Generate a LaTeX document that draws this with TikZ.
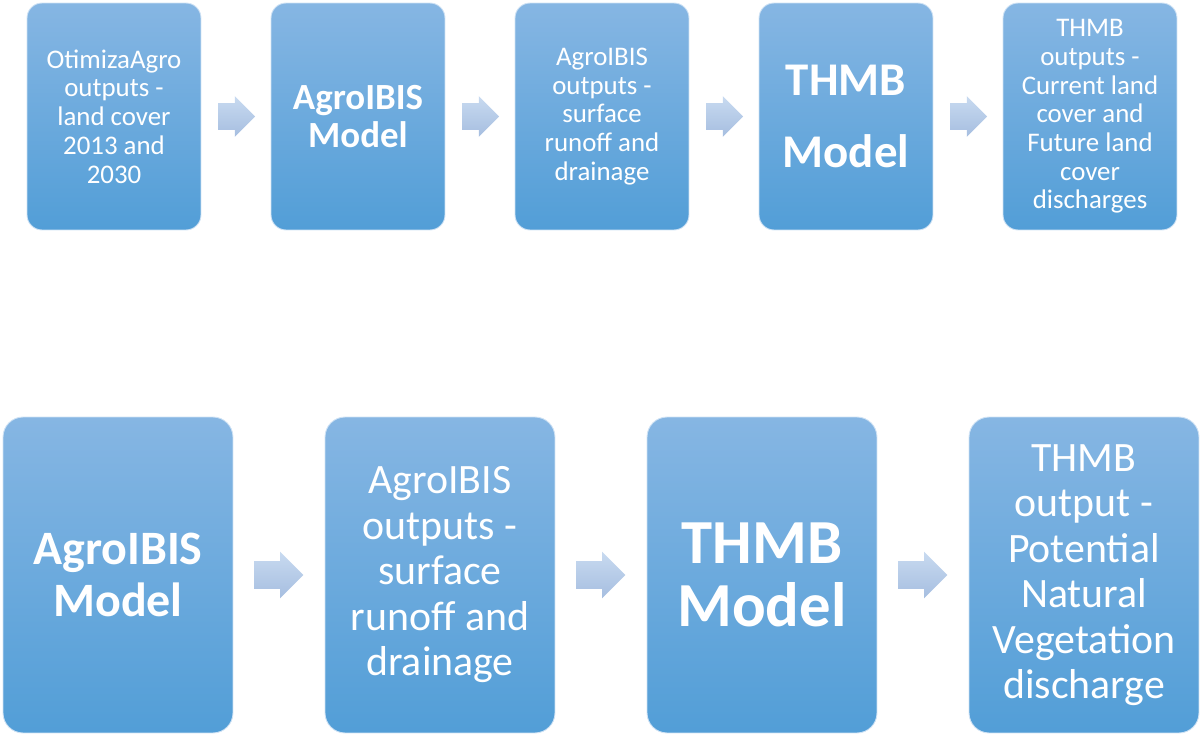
\documentclass[tikz,border=0pt]{standalone}
\usepackage{fontspec}
\setmainfont{Carlito}
\usepackage{tikz}
\usetikzlibrary{shapes.arrows,calc}
\usepackage{xcolor}
\definecolor{boxtop}{HTML}{86B6E3}
\definecolor{boxbot}{HTML}{529ED7}
\definecolor{arrtop}{HTML}{C8DAF0}
\definecolor{arrbot}{HTML}{A6BEE0}

\begin{document}
\begin{tikzpicture}[x=0.02cm,y=0.02cm,
  stepbox/.style={rounded corners=0.3cm,top color=boxtop,bottom color=boxbot,
    draw=white!60!boxtop,line width=0.5pt,text=white,align=center,inner sep=0pt},
  smallbox/.style={stepbox,minimum width=3.48cm,minimum height=4.54cm},
  bigbox/.style={stepbox,rounded corners=0.4cm,minimum width=4.6cm,minimum height=6.32cm},
  smallarr/.style={single arrow,top color=arrtop,bottom color=arrbot,draw=none,xshift=-0.12cm,
    inner xsep=0pt,inner ysep=0.26cm,minimum height=0.74cm,single arrow head extend=0.14cm},
  bigarr/.style={smallarr,xshift=-0.02cm,inner ysep=0.27cm,minimum height=0.98cm,single arrow head extend=0.19cm}]
\useasboundingbox (0,0) rectangle (1200,734);
% top row
\node[smallbox,font=\fontsize{15.3}{16.4}\selectfont] (t1) at (114,617.5) {OtimizaAgro\\outputs -\\land cover\\2013 and\\2030};
\node[smallbox,font=\fontsize{21}{21.6}\selectfont\bfseries] (t2) at (358,617.5) {AgroIBIS\\Model};
\node[smallbox,font=\fontsize{15.3}{16.3}\selectfont] (t3) at (602,617.5) {AgroIBIS\\outputs -\\surface\\runoff and\\drainage};
\node[smallbox,font=\fontsize{26.7}{41.4}\selectfont\bfseries] (t4) at (846,617.5) {THMB\\Model};
\node[smallbox,font=\fontsize{15.3}{16.3}\selectfont] (t5) at (1090,617.5) {THMB\\outputs -\\Current land\\cover and\\Future land\\cover\\discharges};
\node[smallarr] (ta1) at ($(t1.east)!0.5!(t2.west)$) {};
\node[smallarr] (ta2) at ($(t2.east)!0.5!(t3.west)$) {};
\node[smallarr] (ta3) at ($(t3.east)!0.5!(t4.west)$) {};
\node[smallarr] (ta4) at ($(t4.east)!0.5!(t5.west)$) {};
% bottom row
\node[bigbox,font=\fontsize{27.3}{29.5}\selectfont\bfseries] (b1) at (118,159) {AgroIBIS\\Model};
\node[bigbox,font=\fontsize{23.8}{25.9}\selectfont] (b2) at (440,159) {AgroIBIS\\outputs -\\surface\\runoff and\\drainage};
\node[bigbox,font=\fontsize{35.7}{35.7}\selectfont\bfseries] (b3) at (762,159) {THMB\\Model};
\node[bigbox,font=\fontsize{23.8}{25.9}\selectfont] (b4) at (1084,159) {THMB\\output -\\Potential\\Natural\\Vegetation\\discharge};
\node[bigarr] (ba1) at ($(b1.east)!0.5!(b2.west)$) {};
\node[bigarr] (ba2) at ($(b2.east)!0.5!(b3.west)$) {};
\node[bigarr] (ba3) at ($(b3.east)!0.5!(b4.west)$) {};
\end{tikzpicture}
\end{document}
